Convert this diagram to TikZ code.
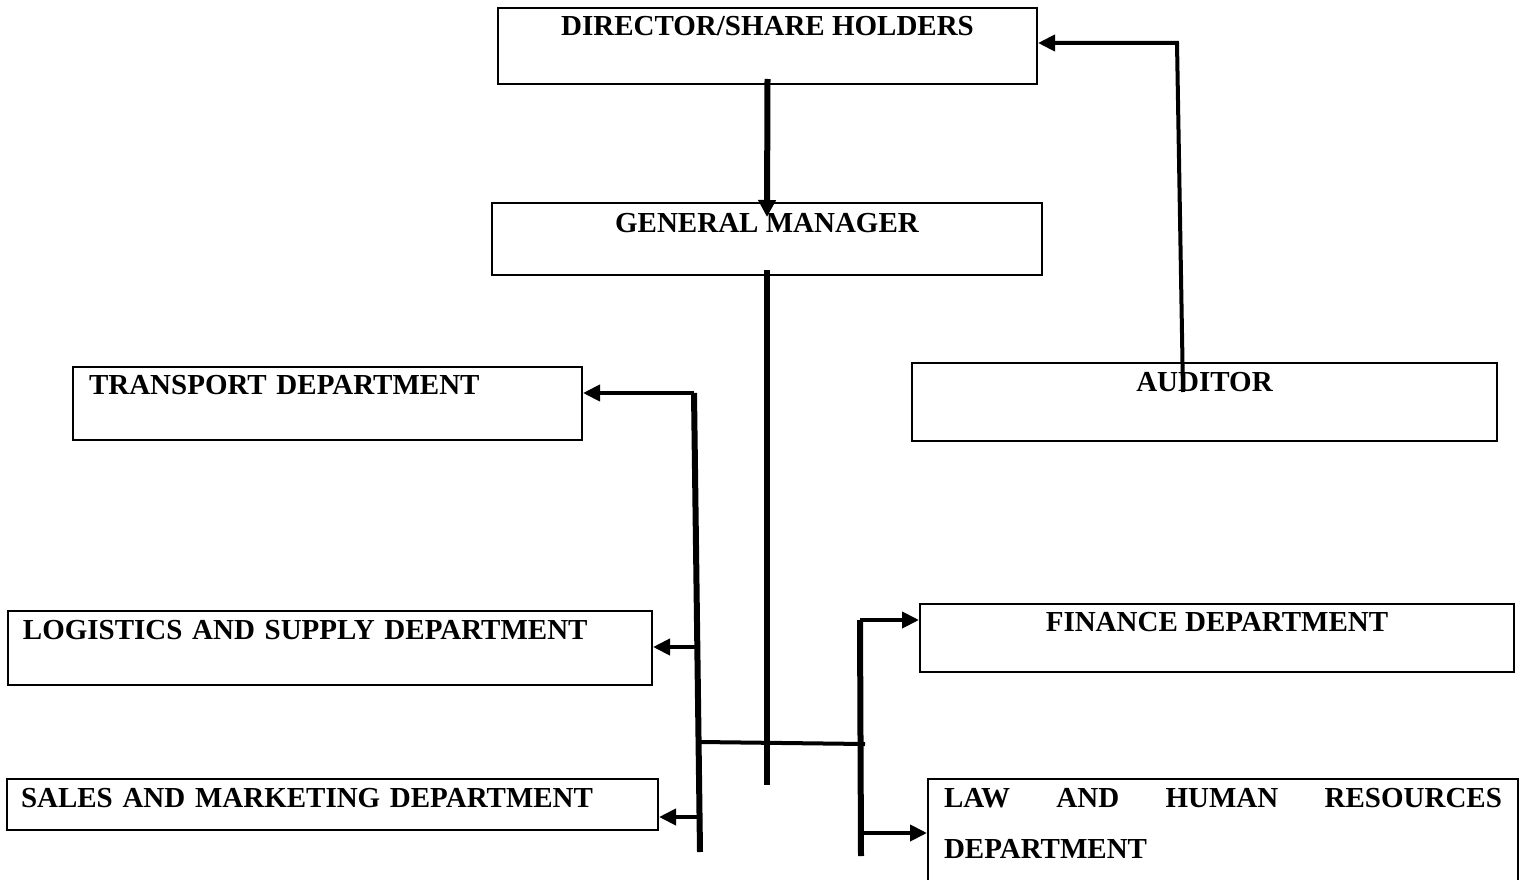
\documentclass[tikz,border=0pt]{standalone}
\usepackage{fontspec}
\setmainfont{Liberation Serif}
\usetikzlibrary{arrows.meta,positioning}

\tikzset{
  unit/.style={draw, line width=2pt, rectangle, inner ysep=0pt, anchor=north west,
    font=\fontsize{29}{51}\selectfont\bfseries},
  trunk/.style={line width=6pt},
  bus/.style={line width=4pt},
  conn/.style={line width=4pt, -{Triangle[length=17pt,width=16pt]}},
  feed/.style={line width=6pt, -{Triangle[length=17pt,width=17pt]}},
}

\begin{document}
\begin{tikzpicture}[x=1pt,y=-1pt]

\useasboundingbox (0,0) rectangle (1523,880);

% Cajas
\node[unit, minimum width=539, text height=28, text depth=48] (dir) at (497,7) {DIRECTOR/SHARE HOLDERS};
\node[unit, minimum width=550, text height=29, text depth=43] (gm) at (491,202) {GENERAL MANAGER};
\node[unit, minimum width=585, text height=28, text depth=50] (aud) at (911,362) {AUDITOR};
\node[unit, inner xsep=16, text width=477, align=left, text height=27, text depth=46] (trans) at (72,366) {TRANSPORT DEPARTMENT};
\node[unit, inner xsep=15, text width=614, align=left, text height=28, text depth=46] (logi) at (7,610) {LOGISTICS AND SUPPLY DEPARTMENT};
\node[unit, inner xsep=14, text width=623, align=left, text height=28, text depth=23] (sales) at (6,778) {SALES AND MARKETING DEPARTMENT};
\node[unit, minimum width=594, text height=27, text depth=41] (fin) at (919,603) {FINANCE DEPARTMENT};
\node[unit, inner xsep=16, text width=558, align=justify, text height=28, text depth=80] (law) at (927,778) {LAW AND HUMAN RESOURCES \mbox{DEPARTMENT}};

% Puntos de union
\coordinate (gmend) at (767,785);
\coordinate (lt) at (694,393);
\coordinate (lb) at (700,852);
\coordinate (lg) at (697,647);
\coordinate (sl) at (699,817);
\coordinate (hl) at (700,742);
\coordinate (hr) at (865,744);
\coordinate (rt) at (860,620);
\coordinate (rb) at (861,856);
\coordinate (lw) at (862,833);
\coordinate (as) at (1183,392);
\coordinate (ac) at (1177,43);

% Director -> gerente
\draw[feed] ([yshift=6pt]dir.south) -- ([yshift=-15pt]gm.north);

% Tronco
\draw[trunk] ([yshift=6pt]gm.south) -- (gmend);
\draw[bus] (hl) -- (hr);

% Lado izquierdo
\draw[trunk] (lt) -- (lb);
\draw[conn] (lt) -- (trans.east |- lt);
\draw[conn] (lg) -- (logi.east |- lg);
\draw[conn] (sl) -- (sales.east |- sl);

% Lado derecho
\draw[trunk] (rt) -- (rb);
\draw[conn] (rt) -- (fin.west |- rt);
\draw[conn] (lw) -- (law.west |- lw);

% Auditor
\draw[conn, line join=miter] (as) -- (ac) -- (dir.east |- ac);

\end{tikzpicture}
\end{document}
